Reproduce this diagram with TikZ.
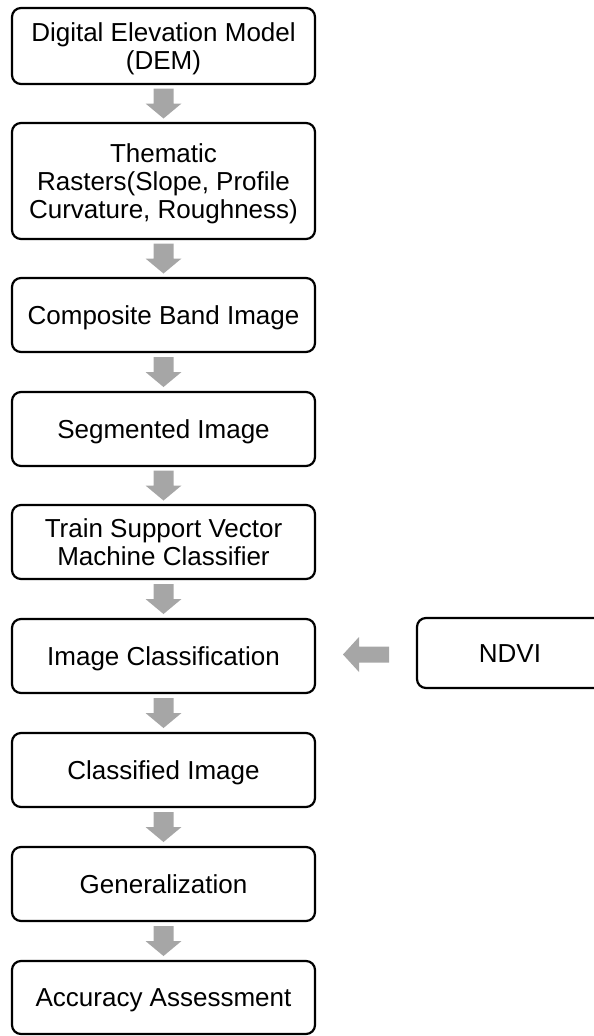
\documentclass[tikz,border=0pt]{standalone}
\usepackage{fontspec}
\setmainfont{Liberation Sans}
\usetikzlibrary{calc}
\definecolor{arrowgray}{HTML}{A6A6A6}
\tikzset{
  flowbox/.style={draw=black, line width=2.2pt, rounded corners=9pt, inner sep=0pt,
    minimum width=303pt, font=\fontsize{26}{28}\selectfont},
  arrowfill/.style={fill=arrowgray, draw=none}
}
\newcommand\boxtext[1]{\raisebox{-3.5pt}[\height][\depth]{\begin{tabular}{@{}c@{}}#1\end{tabular}}}
\newcommand\vblockarrow[2]{%
  \path[arrowfill] let \p1=($(#1.south)!0.5!(#2.north)$) in
    (\x1-10pt,\y1+15pt) -- (\x1+10pt,\y1+15pt) -- (\x1+10pt,\y1) -- (\x1+18pt,\y1)
    -- (\x1,\y1-15pt) -- (\x1-18pt,\y1) -- (\x1-10pt,\y1) -- cycle;}
\begin{document}
\begin{tikzpicture}[x=1pt,y=-1pt]
\useasboundingbox (0,0) rectangle (594,1036);
\node[flowbox, minimum height=76pt]  (b1) at (163.5,46) {\boxtext{Digital Elevation Model\\(DEM)}};
\node[flowbox, minimum height=116pt] (b2) at (163.5,181) {\boxtext{Thematic\\Rasters(Slope, Profile\\Curvature, Roughness)}};
\node[flowbox, minimum height=74pt]  (b3) at (163.5,315) {\boxtext{Composite Band Image}};
\node[flowbox, minimum height=74pt]  (b4) at (163.5,429) {\boxtext{Segmented Image}};
\node[flowbox, minimum height=74pt]  (b5) at (163.5,542) {\boxtext{Train Support Vector\\Machine Classifier}};
\node[flowbox, minimum height=74pt]  (b6) at (163.5,656) {\boxtext{Image Classification}};
\node[flowbox, minimum height=74pt]  (b7) at (163.5,770) {\boxtext{Classified Image}};
\node[flowbox, minimum height=74pt]  (b8) at (163.5,884) {\boxtext{Generalization}};
\node[flowbox, minimum height=73pt]  (b9) at (163.5,997.5) {\boxtext{Accuracy Assessment}};
\node[flowbox, minimum height=70pt, minimum width=186pt] (ndvi) at (510,653) {\boxtext{NDVI}};
\vblockarrow{b1}{b2}
\vblockarrow{b2}{b3}
\vblockarrow{b3}{b4}
\vblockarrow{b4}{b5}
\vblockarrow{b5}{b6}
\vblockarrow{b6}{b7}
\vblockarrow{b7}{b8}
\vblockarrow{b8}{b9}
\path[arrowfill] let \p1=($(b6.east)!0.5!(ndvi.west)$) in
  (\x1+23pt,\y1+8pt) -- (\x1+23pt,\y1-8pt) -- (\x1-7pt,\y1-8pt) -- (\x1-7pt,\y1-17.5pt)
  -- (\x1-23pt,\y1) -- (\x1-7pt,\y1+17.5pt) -- (\x1-7pt,\y1+8pt) -- cycle;
\end{tikzpicture}
\end{document}
